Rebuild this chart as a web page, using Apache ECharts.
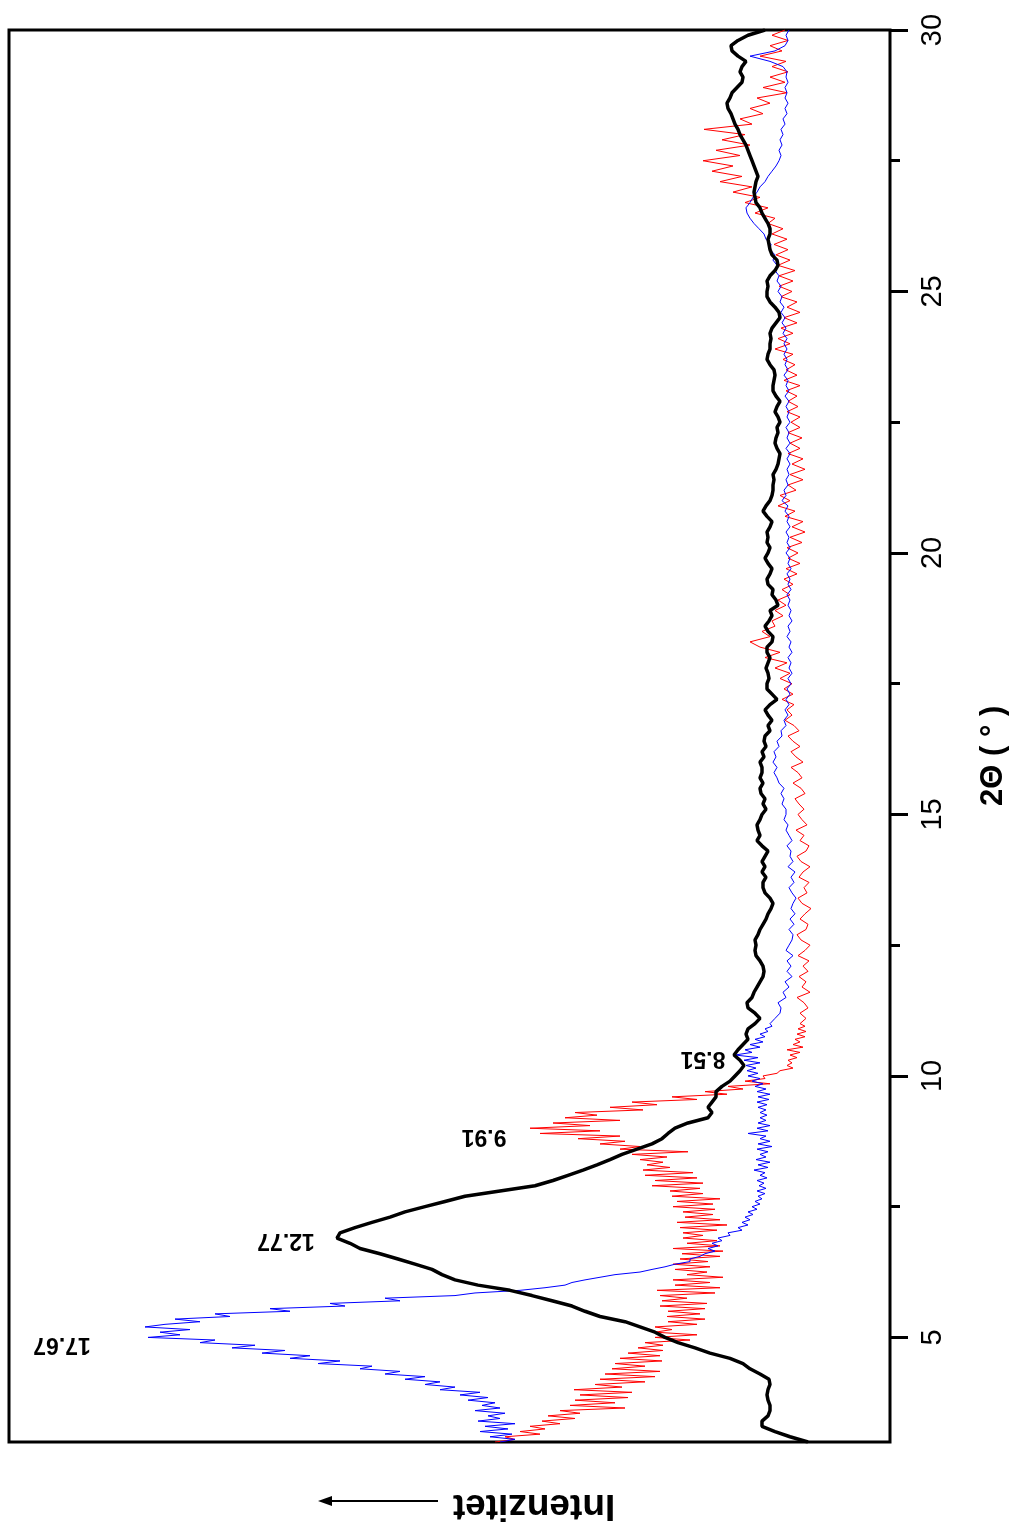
<!DOCTYPE html>
<html>
<head>
<meta charset="utf-8">
<script src="https://cdn.jsdelivr.net/npm/echarts@6/dist/echarts.min.js"></script>
<style>
html,body{margin:0;padding:0;background:#fff;}
#chart{width:1017px;height:1527px;}
</style>
</head>
<body>
<div id="chart"></div>
<script>
// 2-theta sampling: fine grid 3.00-11.00 step 0.05, coarse grid 11.1-30.0 step 0.1
const fineStart = 3.0, fineStep = 0.05;
const coarseStart = 11.1, coarseStep = 0.1;
const blackStart = 3.0, blackStep = 0.1;

// Intensity (arbitrary units, 0 = baseline axis)
const blueFine = [
  390,375,400,378,410,382,405,375,412,390,
  402,385,415,390,408,395,422,402,430,410,
  450,435,465,450,485,465,505,490,530,518,
  572,550,600,580,628,605,658,635,690,675,
  742,710,730,700,745,725,690,715,660,675,
  600,620,545,560,490,505,435,415,370,345,
  325,318,305,290,275,250,238,225,215,200,
  200,190,185,175,182,172,178,168,172,160,
  162,148,152,142,148,140,145,137,142,133,
  138,130,135,128,132,125,133,124,131,126,
  133,123,130,125,136,122,132,120,134,124,
  130,122,133,118,132,120,130,124,142,122,
  133,120,132,124,130,123,130,124,132,123,
  133,121,132,120,133,124,135,127,138,130,
  142,132,143,134,144,130,146,132,155,138,
  145,130,140,127,135,125,130,122,125,118,
  120
];
const blueCoarse = [
  115,110,109,112,104,107,101,105,98,103,
  99,103,97,104,101,98,97,101,96,100,
  95,99,97,94,98,101,96,99,95,102,
  97,100,99,103,98,101,104,102,106,104,
  104,108,106,109,106,111,113,116,113,117,
  114,116,111,113,108,109,104,106,102,105,
  101,104,100,103,99,102,98,101,99,102,
  98,101,99,103,100,102,98,101,99,102,
  100,103,99,102,100,103,99,102,100,104,
  100,103,101,104,100,103,101,105,102,108,
  104,106,102,104,101,103,100,103,100,104,
  100,103,101,104,100,103,101,104,101,105,
  101,104,102,106,102,105,103,106,103,106,
  103,107,104,108,105,109,106,110,108,112,
  109,113,111,115,113,117,115,120,119,124,
  126,131,136,140,143,144,140,137,133,130,
  125,122,118,114,111,109,111,108,110,107,
  109,105,107,103,105,102,105,103,105,102,
  104,103,107,120,140,115,105,102,104,101
];
const redFine = [
  395,375,385,350,370,345,360,330,348,315,
  342,310,330,265,320,275,315,262,310,258,
  316,268,295,245,290,235,285,230,278,245,
  275,228,270,230,262,227,252,227,245,200,
  235,193,235,218,235,193,222,185,223,190,
  222,185,230,183,228,203,230,175,233,170,
  215,180,217,167,203,183,215,180,217,182,
  210,170,208,167,217,170,203,173,207,187,
  207,173,210,163,213,170,205,177,207,175,
  217,177,213,170,218,187,220,190,238,187,
  235,193,245,197,247,220,243,227,250,223,
  258,202,270,250,290,265,312,270,350,290,
  360,300,337,270,325,293,315,247,280,233,
  258,193,218,163,185,147,162,120,145,125,
  127,113,110,97,103,98,102,93,100,90,
  103,87,97,90,95,85,93,84,92,85,
  90
];
const redCoarse = [
  84,90,82,86,93,80,88,84,91,82,
  87,81,92,85,80,89,93,84,82,90,
  85,79,88,92,83,86,81,91,87,80,
  89,93,84,81,90,86,94,83,88,92,
  86,91,95,85,89,97,88,92,99,87,
  94,99,90,97,102,91,96,105,98,103,
  96,108,97,106,98,110,100,115,103,125,
  110,130,140,120,128,115,118,107,115,104,
  112,100,108,97,106,93,104,90,102,92,
  103,88,100,85,98,87,105,95,112,100,
  110,94,102,87,100,85,98,87,102,90,
  100,88,102,90,99,90,103,92,102,93,
  104,90,106,93,104,95,107,97,115,100,
  112,97,109,93,106,90,103,93,109,98,
  111,97,111,95,112,100,114,102,116,103,
  118,107,122,115,135,122,145,130,157,138,
  170,148,178,157,187,150,174,140,168,145,
  186,138,150,127,140,120,133,103,127,105,
  120,102,118,104,130,108,120,102,118,105
];
const blackVals = [
  82,100,115,128,128,122,120,120,122,123,
  122,120,121,130,140,147,160,180,195,212,
  225,235,250,265,290,305,318,338,358,380,
  412,435,448,458,475,492,510,530,540,553,
  550,535,518,500,485,465,445,425,390,355,
  337,322,307,293,280,268,253,238,228,222,
  215,202,182,178,182,178,174,174,168,160,
  155,150,146,150,156,152,147,142,144,142,
  135,130,135,142,143,138,136,133,130,127,
  126,127,130,134,135,134,135,132,130,127,
  124,122,119,117,120,125,127,127,124,128,
  125,128,125,122,128,133,130,132,133,130,
  128,124,127,125,129,130,127,130,128,128,
  130,126,128,124,126,125,120,122,118,122,
  125,120,113,118,123,123,121,122,124,122,
  120,123,123,118,117,122,125,121,118,120,
  112,114,118,117,122,123,120,118,122,125,
  122,120,123,122,123,120,118,123,127,124,
  120,118,117,117,116,117,114,112,111,110,
  113,115,114,112,113,110,112,115,113,110,
  114,117,117,116,115,116,120,123,122,120,
  120,119,120,118,114,110,111,115,120,123,
  123,122,123,120,115,112,113,118,120,121,
  122,120,120,122,125,128,130,134,135,136,
  135,134,132,134,136,138,140,142,144,147,
  150,152,155,157,159,162,163,160,158,153,
  148,147,150,148,144,152,158,159,152,142,
  125
];

// axis ticks (2-theta)
const majorTicks = [5, 10, 15, 20, 25, 30];
const minorTicks = [7.5, 12.5, 17.5, 22.5, 27.5];
const axisTitle = '2Θ ( ° )';
const axisTitleTheta = 16.12;

// peak annotations (d-spacing in Å) and where their text sits [intensity, 2theta]
const peakLabels = ['17.67', '12.77', '9.91', '8.51'];
const peakLabelIntensity = [828, 604, 406, 187];
const peakLabelTheta = [4.86, 6.86, 8.84, 10.34];

function pairs(vals, start, step) {
  return vals.map((v, i) => [v, +(start + i * step).toFixed(3)]);
}
const blueData = pairs(blueFine, fineStart, fineStep).concat(pairs(blueCoarse, coarseStart, coarseStep));
const redData = pairs(redFine, fineStart, fineStep).concat(pairs(redCoarse, coarseStart, coarseStep));
const blackData = pairs(blackVals, blackStart, blackStep);

const chart = echarts.init(document.getElementById('chart'), null, {renderer: 'canvas'});
const FONT = 'Liberation Sans, Arial, sans-serif';

const option = {
  animation: false,
  backgroundColor: '#fff',
  grid: {left: 9, right: 127, top: 30, bottom: 85, show: true, borderColor: '#000', borderWidth: 3, containLabel: false},
  xAxis: {
    type: 'value', inverse: true, min: 0, max: 881,
    axisLine: {show: false}, axisTick: {show: false}, axisLabel: {show: false}, splitLine: {show: false}
  },
  yAxis: [
    {
      type: 'value', position: 'right', min: 3, max: 30,
      axisLine: {show: false},
      splitLine: {show: false},
      axisTick: {show: true, inside: false, length: 18, customValues: majorTicks, lineStyle: {color: '#000', width: 3}},
      axisLabel: {show: true, rotate: 90, margin: 28, customValues: majorTicks, color: '#000', fontSize: 29, fontFamily: FONT}
    },
    {
      type: 'value', position: 'right', min: 3, max: 30,
      axisLine: {show: false}, splitLine: {show: false},
      axisTick: {show: true, inside: false, length: 10, customValues: minorTicks, lineStyle: {color: '#000', width: 3}},
      axisLabel: {show: false}
    }
  ],
  series: [
    {type: 'line', name: 'red', data: redData, showSymbol: false, symbol: 'none', lineStyle: {color: '#ff0000', width: 1}, z: 2},
    {type: 'line', name: 'blue', data: blueData, showSymbol: false, symbol: 'none', lineStyle: {color: '#0000ff', width: 1}, z: 3},
    {type: 'line', name: 'black', data: blackData, showSymbol: false, symbol: 'none', lineStyle: {color: '#000', width: 3.5}, z: 4}
  ]
};
chart.setOption(option);

// annotations placed via the chart's own scales
const graphics = peakLabels.map((t, i) => {
  const p = chart.convertToPixel({xAxisIndex: 0, yAxisIndex: 0}, [peakLabelIntensity[i], peakLabelTheta[i]]);
  return {
    type: 'text', x: p[0], y: p[1], rotation: Math.PI, z: 10,
    style: {text: t, fontSize: 23, fontWeight: 'bold', fontFamily: FONT, fill: '#000', textAlign: 'center', textVerticalAlign: 'middle'}
  };
});
const titleY = chart.convertToPixel({yAxisIndex: 0}, axisTitleTheta);
graphics.push({
  type: 'text', x: 993, y: titleY, rotation: Math.PI / 2, z: 10,
  style: {text: axisTitle, fontSize: 31, fontWeight: 'bold', fontFamily: FONT, fill: '#000', textAlign: 'center', textVerticalAlign: 'middle'}
});
graphics.push({
  type: 'text', x: 534, y: 1505, rotation: Math.PI, z: 10,
  style: {text: 'Intenzitet', fontSize: 37, fontWeight: 'bold', fontFamily: FONT, fill: '#000', textAlign: 'center', textVerticalAlign: 'middle'}
});
graphics.push({type: 'line', shape: {x1: 438, y1: 1501, x2: 328, y2: 1501}, style: {stroke: '#000', lineWidth: 2}, z: 10});
graphics.push({type: 'polygon', shape: {points: [[318, 1501], [332, 1496], [332, 1506]]}, style: {fill: '#000'}, z: 10});
chart.setOption({graphic: graphics});
</script>
</body>
</html>
